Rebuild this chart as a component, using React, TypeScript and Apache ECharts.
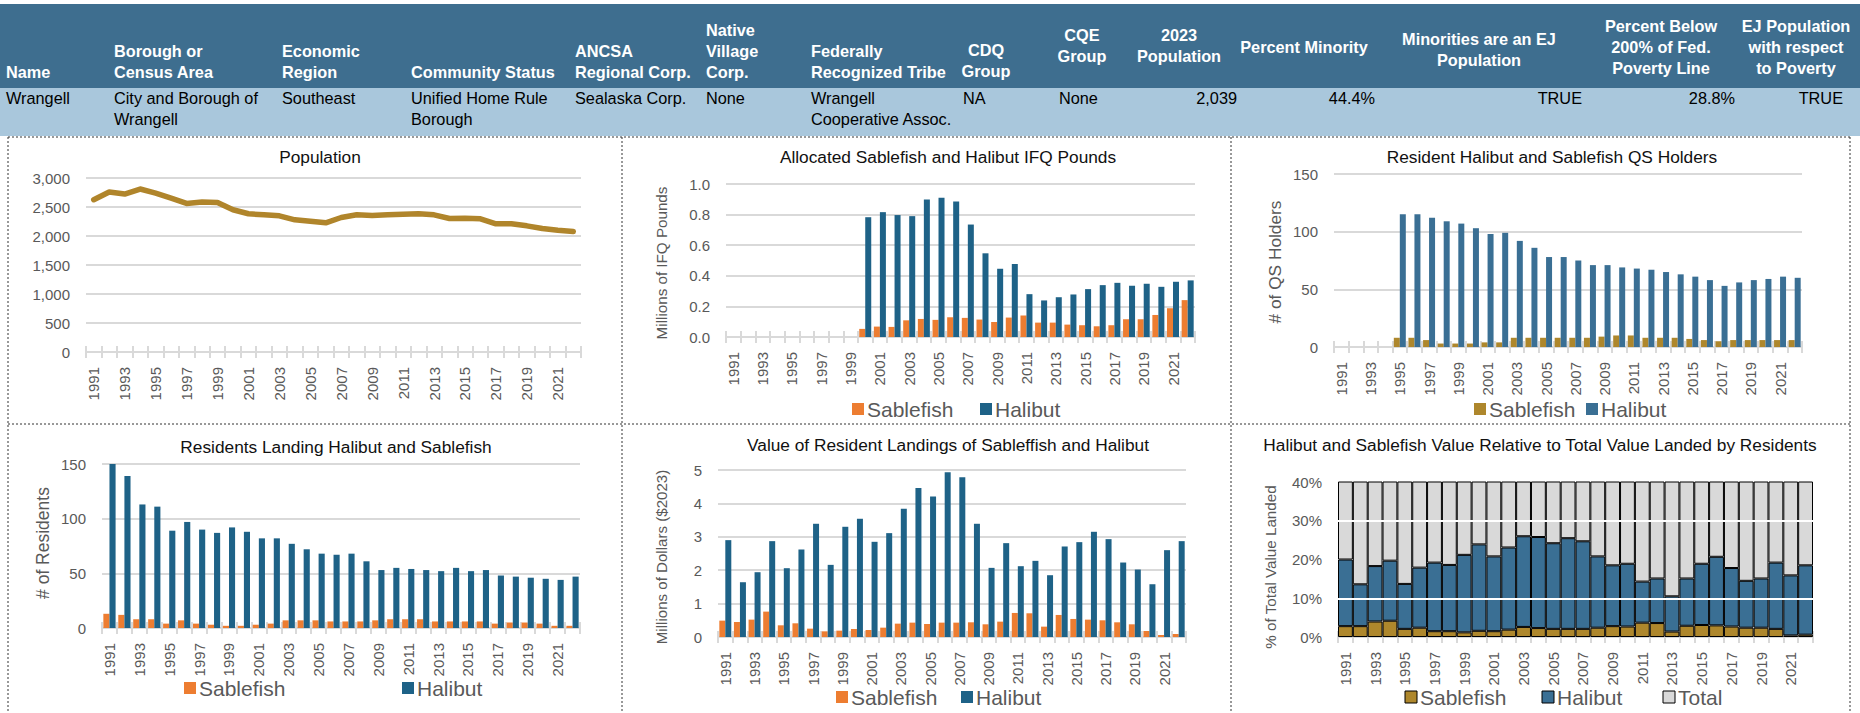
import React, { useEffect, useRef } from "react";
import * as echarts from "echarts";

const FONT = "'Liberation Sans', Arial, sans-serif";

// ---------- DATA ----------
const years = ["1991","1992","1993","1994","1995","1996","1997","1998","1999","2000","2001","2002","2003","2004","2005","2006","2007","2008","2009","2010","2011","2012","2013","2014","2015","2016","2017","2018","2019","2020","2021","2022"];

const headerLabels = ["Name","Borough or\nCensus Area","Economic\nRegion","Community Status","ANCSA\nRegional Corp.","Native\nVillage\nCorp.","Federally\nRecognized Tribe","CDQ\nGroup","CQE\nGroup","2023\nPopulation","Percent Minority","Minorities are an EJ\nPopulation","Percent Below\n200% of Fed.\nPoverty Line","EJ Population\nwith respect\nto Poverty"];
const rowValues = ["Wrangell","City and Borough of\nWrangell","Southeast","Unified Home Rule\nBorough","Sealaska Corp.","None","Wrangell\nCooperative Assoc.","NA","None","2,039","44.4%","TRUE","28.8%","TRUE"];

const population = [2625,2758,2723,2810,2740,2654,2562,2585,2579,2452,2383,2365,2348,2279,2256,2227,2319,2365,2354,2365,2377,2383,2365,2302,2308,2296,2210,2210,2175,2129,2100,2077];

const ifqSablefish = [null,null,null,null,null,null,null,null,null,0.053,0.068,0.066,0.109,0.118,0.112,0.129,0.125,0.114,0.098,0.127,0.140,0.094,0.094,0.081,0.077,0.070,0.077,0.116,0.116,0.144,0.188,0.241];
const ifqHalibut = [null,null,null,null,null,null,null,null,null,0.783,0.816,0.797,0.790,0.899,0.910,0.886,0.735,0.547,0.446,0.477,0.280,0.239,0.260,0.278,0.313,0.339,0.354,0.335,0.348,0.328,0.361,0.370];

const qsSablefish = [null,null,null,null,8,8,6,3,3,3,4,4,8,8,8,8,8,8,9,10,10,8,8,8,7,6,5,6,6,6,6,6];
const qsHalibut = [null,null,null,null,115,115,112,109,107,103,98,99,92,86,78,78,75,71,71,69,68,67,65,63,61,58,53,56,58,59,61,60];

const residentsSablefish = [13,12,8,8,4,7,4,3,2,2,3,4,7,7,7,6,6,6,7,8,8,8,6,6,6,6,4,5,5,4,2,2];
const residentsHalibut = [150,139,113,111,89,97,90,87,92,88,82,82,77,72,68,67,68,61,53,55,54,53,52,55,52,53,48,47,46,45,44,47];

const valueSablefish = [0.49,0.45,0.52,0.76,0.35,0.41,0.25,0.17,0.19,0.24,0.21,0.28,0.40,0.43,0.39,0.43,0.43,0.44,0.38,0.46,0.72,0.71,0.31,0.66,0.54,0.52,0.50,0.44,0.38,0.18,0.06,0.09];
const valueHalibut = [2.90,1.64,1.94,2.87,2.06,2.62,3.39,2.16,3.30,3.54,2.85,3.11,3.84,4.46,4.21,4.93,4.78,3.39,2.07,2.81,2.12,2.28,1.85,2.71,2.84,3.15,2.93,2.23,2.02,1.58,2.60,2.87];

const pctSablefish = [2.8,2.8,4.0,4.2,2.1,2.4,1.5,1.5,1.2,1.6,1.5,1.9,2.6,2.3,2.1,2.1,2.1,2.4,2.8,2.7,3.7,3.6,1.4,2.9,3.1,3.0,2.7,2.4,2.4,2.1,0.4,0.6];
const pctHalibut = [17.2,10.8,14.3,15.5,11.6,15.5,17.7,17.1,20.0,22.3,19.3,21.2,23.4,23.5,22.1,23.4,22.6,18.4,15.7,16.2,10.6,11.5,9.1,12.2,15.8,17.7,15.1,12.1,12.7,17.1,15.5,17.9];

// ---------- LAYOUT / STYLE ----------
const C_GOLD_LINE = "#B0852B";
const C_ORANGE = "#ED7D31";
const C_DARKBLUE = "#1E6287";
const C_STEEL = "#3A6F94";
const C_GOLD = "#AE872C";
const C_GREY = "#D9D9D9";
const C_LABEL = "#595959";
const TICK_SIZE = 15;

const headerPos = [
  { x: 6, align: "left", v: "bottom", y: 82 },
  { x: 114, align: "left", v: "bottom", y: 82 },
  { x: 282, align: "left", v: "bottom", y: 82 },
  { x: 411, align: "left", v: "bottom", y: 82 },
  { x: 575, align: "left", v: "bottom", y: 82 },
  { x: 706, align: "left", v: "bottom", y: 82 },
  { x: 811, align: "left", v: "bottom", y: 82 },
  { x: 986, align: "center", v: "bottom", y: 81 },
  { x: 1082, align: "center", v: "middle", y: 45 },
  { x: 1179, align: "center", v: "middle", y: 45 },
  { x: 1304, align: "center", v: "middle", y: 47 },
  { x: 1479, align: "center", v: "middle", y: 49 },
  { x: 1661, align: "center", v: "middle", y: 47 },
  { x: 1796, align: "center", v: "middle", y: 47 },
];
const rowPos = [
  { x: 6, align: "left" }, { x: 114, align: "left" }, { x: 282, align: "left" }, { x: 411, align: "left" },
  { x: 575, align: "left" }, { x: 706, align: "left" }, { x: 811, align: "left" }, { x: 963, align: "left" },
  { x: 1059, align: "left" }, { x: 1237, align: "right" }, { x: 1375, align: "right" }, { x: 1582, align: "right" },
  { x: 1735, align: "right" }, { x: 1843, align: "right" },
];

const grids = [
  { left: 86, top: 178, width: 495, height: 174 },
  { left: 726, top: 184, width: 469, height: 153 },
  { left: 1334, top: 174, width: 468, height: 173 },
  { left: 102, top: 464, width: 478, height: 164 },
  { left: 718, top: 470, width: 468, height: 167 },
  { left: 1338, top: 482, width: 475, height: 155 },
];

function txt(x: number, y: number, text: string, o: any = {}) {
  const align = o.align || "left";
  const valign = o.valign || "middle";
  return {
    type: "text",
    x, y,
    rotation: o.rot || 0,
    silent: true,
    z: 100,
    style: {
      text,
      fill: o.fill || "#000",
      fontSize: o.size || 16,
      fontFamily: FONT,
      fontWeight: o.weight || "normal",
      align, textAlign: align,
      verticalAlign: valign, textVerticalAlign: valign,
      lineHeight: o.lh || 21,
    },
  };
}

function legend(y: number, items: { name: string; color: string; x: number; border?: boolean }[]) {
  const els: any[] = [];
  items.forEach((it) => {
    els.push({
      type: "rect", silent: true, z: 100,
      shape: { x: it.x, y: y - 6, width: 12, height: 12 },
      style: { fill: it.color, stroke: it.border ? "#000" : null, lineWidth: it.border ? 1 : 0 },
    });
    els.push(txt(it.x + 15, y, it.name, { size: 21, fill: C_LABEL }));
  });
  return els;
}

function buildOption() {
  const xAxis: any[] = [];
  grids.forEach((_, i) => {
    xAxis.push({
      type: "category", gridIndex: i, data: years, boundaryGap: true,
      axisLine: { show: true, lineStyle: { color: C_GREY, width: 2 } },
      axisTick: { show: true, interval: 0, length: 6, lineStyle: { color: C_GREY, width: 2 } },
      axisLabel: { interval: 1, rotate: 90, color: C_LABEL, fontSize: TICK_SIZE, fontFamily: FONT, margin: 15 },
      splitLine: { show: false },
    });
    xAxis.push({
      type: "category", gridIndex: i, data: years, boundaryGap: true, position: "bottom",
      axisLine: { show: false },
      axisTick: { show: true, inside: true, interval: 0, length: 6, lineStyle: { color: C_GREY, width: 2 } },
      axisLabel: { show: false },
      splitLine: { show: false },
    });
  });

  const yBase = (i: number, max: number, interval: number, fmt: any, split = true) => ({
    type: "value", gridIndex: i, min: 0, max, interval,
    axisLine: { show: false }, axisTick: { show: false },
    splitLine: { show: split, lineStyle: { color: C_GREY, width: 2 } },
    axisLabel: { color: C_LABEL, fontSize: TICK_SIZE, fontFamily: FONT, margin: 16, formatter: fmt },
  });
  const yAxis = [
    yBase(0, 3000, 500, (v: number) => v.toLocaleString("en-US")),
    yBase(1, 1.0, 0.2, (v: number) => v.toFixed(1)),
    yBase(2, 150, 50, (v: number) => String(v)),
    yBase(3, 150, 50, (v: number) => String(v)),
    yBase(4, 5, 1, (v: number) => String(v)),
    yBase(5, 40, 10, (v: number) => v + "%", false),
  ];

  const pctOther = pctSablefish.map((s, i) => +(100 - s - pctHalibut[i]).toFixed(1));

  const bar = (name: string, data: any[], color: string, xi: number, yi: number) => ({
    name, type: "bar", xAxisIndex: xi, yAxisIndex: yi, data,
    itemStyle: { color }, barGap: "0%", barCategoryGap: "18%",
  });
  const sbar = (name: string, data: any[], color: string, extra: any = {}) => ({
    name, type: "bar", xAxisIndex: 10, yAxisIndex: 5, data, stack: "pct",
    itemStyle: { color, borderColor: "#000", borderWidth: 1 }, barCategoryGap: "0%",
    ...extra,
  });

  const series: any[] = [
    {
      name: "Population", type: "line", xAxisIndex: 0, yAxisIndex: 0, data: population,
      symbol: "none", lineStyle: { color: C_GOLD_LINE, width: 5.5, cap: "round", join: "round" },
      itemStyle: { color: C_GOLD_LINE },
    },
    bar("Sablefish", ifqSablefish, C_ORANGE, 2, 1),
    bar("Halibut", ifqHalibut, C_DARKBLUE, 2, 1),
    bar("Sablefish", qsSablefish, C_GOLD, 4, 2),
    bar("Halibut", qsHalibut, C_STEEL, 4, 2),
    bar("Sablefish", residentsSablefish, C_ORANGE, 6, 3),
    bar("Halibut", residentsHalibut, C_DARKBLUE, 6, 3),
    bar("Sablefish", valueSablefish, C_ORANGE, 8, 4),
    bar("Halibut", valueHalibut, C_DARKBLUE, 8, 4),
    sbar("Sablefish", pctSablefish, C_GOLD),
    sbar("Halibut", pctHalibut, C_STEEL),
    sbar("Total", pctOther, C_GREY, {
      markLine: {
        silent: true, symbol: ["none", "none"], label: { show: false },
        lineStyle: { color: "#fff", width: 2, type: "solid" },
        data: [{ yAxis: 10 }, { yAxis: 30 }],
      },
    }),
  ];

  const graphic: any[] = [];
  // header backgrounds
  graphic.push({ type: "rect", silent: true, z: 1, shape: { x: 0, y: 4, width: 1860, height: 84 }, style: { fill: "#3E6E8F" } });
  graphic.push({ type: "rect", silent: true, z: 1, shape: { x: 0, y: 88, width: 1860, height: 48 }, style: { fill: "#A9C7DC" } });
  headerLabels.forEach((t, i) => {
    const p = headerPos[i];
    graphic.push(txt(p.x, p.y, t, { align: p.align, valign: p.v, size: 16.3, weight: "bold", fill: "#fff", lh: 21 }));
  });
  rowValues.forEach((t, i) => {
    const p = rowPos[i];
    graphic.push(txt(p.x, 87, t, { align: p.align, valign: "top", size: 16.3, fill: "#000", lh: 21 }));
  });
  // panel borders
  const dash = { stroke: "#333", lineWidth: 1, lineDash: [2, 2] };
  const lines = [
    [8, 137, 1850, 137], [8, 424, 1850, 424],
    [8, 137, 8, 713], [622, 137, 622, 713], [1231, 137, 1231, 713], [1850, 137, 1850, 713],
  ];
  lines.forEach(([x1, y1, x2, y2]) =>
    graphic.push({ type: "line", silent: true, z: 90, shape: { x1, y1, x2, y2 }, style: dash })
  );
  // titles
  const titles: [number, number, string][] = [
    [320, 157, "Population"],
    [948, 157, "Allocated Sablefish and Halibut IFQ Pounds"],
    [1552, 157, "Resident Halibut and Sablefish QS Holders"],
    [336, 447, "Residents Landing Halibut and Sablefish"],
    [948, 445, "Value of Resident Landings of Sableffish and Halibut"],
    [1540, 445, "Halibut and Sablefish Value Relative to Total Value Landed by Residents"],
  ];
  titles.forEach(([x, y, t]) => graphic.push(txt(x, y, t, { align: "center", size: 17.3, fill: "#111" })));
  // y axis names
  const ynames: [number, number, string, number][] = [
    [661, 263, "Millions of IFQ Pounds", 15.2],
    [1275, 262, "# of QS Holders", 17.3],
    [43, 543, "# of Residents", 17.5],
    [661, 557, "Millions of Dollars ($2023)", 15.1],
    [1270, 567, "% of Total Value Landed", 15.2],
  ];
  ynames.forEach(([x, y, t, s]) =>
    graphic.push(txt(x, y, t, { align: "center", size: s, fill: C_LABEL, rot: Math.PI / 2 }))
  );
  // legends
  graphic.push(...legend(409, [
    { name: "Sablefish", color: C_ORANGE, x: 852 },
    { name: "Halibut", color: C_DARKBLUE, x: 980 },
  ]));
  graphic.push(...legend(409, [
    { name: "Sablefish", color: C_GOLD, x: 1474 },
    { name: "Halibut", color: C_STEEL, x: 1586 },
  ]));
  graphic.push(...legend(688, [
    { name: "Sablefish", color: C_ORANGE, x: 184 },
    { name: "Halibut", color: C_DARKBLUE, x: 402 },
  ]));
  graphic.push(...legend(697, [
    { name: "Sablefish", color: C_ORANGE, x: 836 },
    { name: "Halibut", color: C_DARKBLUE, x: 961 },
  ]));
  graphic.push(...legend(697, [
    { name: "Sablefish", color: C_GOLD, x: 1405, border: true },
    { name: "Halibut", color: C_STEEL, x: 1542, border: true },
    { name: "Total", color: C_GREY, x: 1663, border: true },
  ]));

  return {
    animation: false,
    backgroundColor: "#fff",
    textStyle: { fontFamily: FONT },
    grid: grids.map((g) => ({ ...g, containLabel: false })),
    xAxis, yAxis, series, graphic,
  };
}

export default function App() {
  const ref = useRef<HTMLDivElement>(null);
  useEffect(() => {
    document.body.style.margin = "0";
    const chart = echarts.init(ref.current!, null, { renderer: "svg" });
    chart.setOption(buildOption() as any);
    return () => chart.dispose();
  }, []);
  return <div ref={ref} style={{ width: 1860, height: 713, background: "#fff" }} />;
}
